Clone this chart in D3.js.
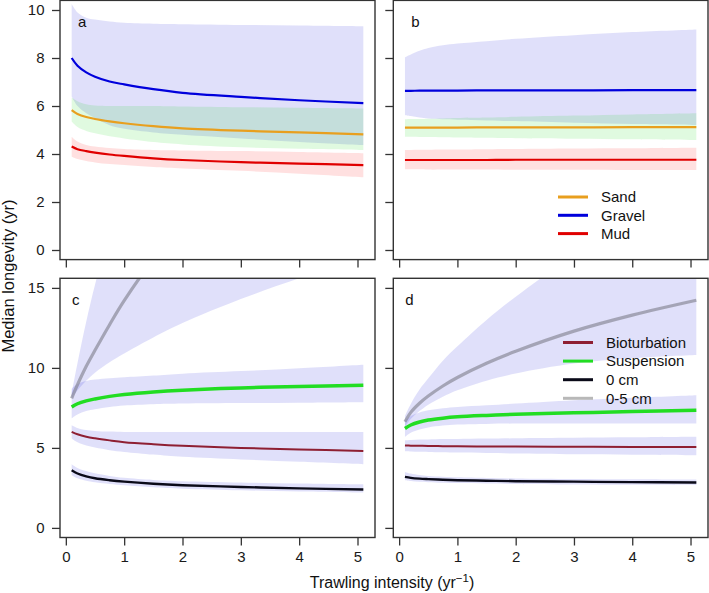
<!DOCTYPE html>
<html><head><meta charset="utf-8">
<script src="https://cdn.jsdelivr.net/npm/d3@7"></script>
<style>
body{margin:0;background:#fff;}
svg{display:block;font-family:"Liberation Sans",Arial,sans-serif;}
</style></head>
<body><svg id="c" width="709" height="593"></svg>
<script>
// ---------- data ----------
const xs = [0.1, 0.2, 0.35, 0.5, 0.75, 1, 1.5, 2, 3, 4, 5.1];
const xTicks = [0, 1, 2, 3, 4, 5];
const yTicksTop = [0, 2, 4, 6, 8, 10];
const yTicksBottom = [0, 5, 10, 15];

// panel a (sediment, time-varying)
const aGravel   = [8.0, 7.68, 7.4, 7.22, 7.02, 6.9, 6.7, 6.55, 6.38, 6.24, 6.12];
const aGravelHi = [10.25, 9.9, 9.68, 9.6, 9.52, 9.47, 9.43, 9.41, 9.38, 9.35, 9.32];
const aGravelLo = [6.4, 6.0, 5.7, 5.5, 5.2, 5.05, 4.9, 4.8, 4.65, 4.5, 4.37];
const aSand     = [5.83, 5.67, 5.54, 5.46, 5.36, 5.28, 5.16, 5.07, 4.97, 4.9, 4.82];
const aSandHi   = [6.35, 6.2, 6.07, 6.02, 6.0, 6.0, 6.0, 5.98, 5.95, 5.93, 5.9];
const aSandLo   = [5.35, 5.12, 4.96, 4.86, 4.74, 4.65, 4.5, 4.4, 4.28, 4.22, 4.17];
const aMud      = [4.31, 4.2, 4.12, 4.06, 3.98, 3.92, 3.82, 3.75, 3.66, 3.6, 3.54];
const aMudHi    = [4.72, 4.52, 4.38, 4.31, 4.25, 4.21, 4.17, 4.15, 4.12, 4.08, 4.03];
const aMudLo    = [3.89, 3.79, 3.71, 3.65, 3.58, 3.54, 3.46, 3.4, 3.3, 3.18, 3.03];

// panel b (sediment)
const bGravel   = [6.63, 6.63, 6.64, 6.64, 6.64, 6.64, 6.65, 6.65, 6.65, 6.66, 6.66];
const bGravelHi = [8.03, 8.15, 8.3, 8.42, 8.53, 8.6, 8.7, 8.8, 8.95, 9.08, 9.19];
const bGravelLo = [5.63, 5.58, 5.52, 5.48, 5.45, 5.43, 5.4, 5.37, 5.3, 5.25, 5.21];
const bSand     = [5.1, 5.1, 5.1, 5.1, 5.1, 5.1, 5.11, 5.11, 5.11, 5.12, 5.12];
const bSandHi   = [5.45, 5.46, 5.46, 5.47, 5.48, 5.5, 5.52, 5.55, 5.6, 5.65, 5.7];
const bSandLo   = [4.72, 4.72, 4.71, 4.71, 4.7, 4.69, 4.68, 4.66, 4.64, 4.61, 4.58];
const bMud      = [3.75, 3.75, 3.75, 3.75, 3.75, 3.75, 3.75, 3.76, 3.76, 3.76, 3.76];
const bMudHi    = [4.17, 4.17, 4.18, 4.18, 4.19, 4.19, 4.2, 4.21, 4.23, 4.24, 4.26];
const bMudLo    = [3.36, 3.36, 3.36, 3.35, 3.35, 3.35, 3.35, 3.34, 3.34, 3.33, 3.33];

// panel c (traits)
const cBio      = [6.0, 5.85, 5.7, 5.6, 5.47, 5.36, 5.23, 5.13, 5.0, 4.9, 4.81];
const cBioHi    = [6.42, 6.25, 6.12, 6.06, 6.02, 6.0, 6.0, 6.0, 6.0, 6.0, 6.0];
const cBioLo    = [5.59, 5.35, 5.15, 5.02, 4.86, 4.75, 4.58, 4.44, 4.28, 4.13, 3.98];
const cSus      = [7.56, 7.76, 7.94, 8.06, 8.22, 8.34, 8.5, 8.61, 8.75, 8.84, 8.92];
const cSusHi    = [8.7, 9.0, 9.18, 9.27, 9.35, 9.41, 9.52, 9.64, 9.8, 9.98, 10.2];
const cSusLo    = [6.84, 7.08, 7.3, 7.42, 7.56, 7.65, 7.73, 7.77, 7.8, 7.82, 7.85];
const c0cm      = [3.6, 3.4, 3.22, 3.1, 2.98, 2.89, 2.76, 2.67, 2.56, 2.47, 2.4];
const c0cmHi    = [3.98, 3.75, 3.55, 3.41, 3.25, 3.13, 3.0, 2.92, 2.84, 2.78, 2.73];
const c0cmLo    = [3.29, 3.1, 2.95, 2.85, 2.74, 2.66, 2.54, 2.45, 2.35, 2.28, 2.21];
const c05cm     = [8.1, 8.95, 10.1, 11.1, 12.7, 14.2, 16.8, 19.0, 22.5, 25.5, 28.5];
const c05cmHi   = [8.4, 10.3, 12.9, 15.2, 18.5, 21.0, 25.0, 28.0, 33.0, 37.0, 40.0];
const c05cmLo   = [8.1, 8.6, 9.2, 9.7, 10.35, 10.9, 11.9, 12.8, 14.3, 15.6, 16.9];

// panel d (traits)
const dBio      = [5.15, 5.14, 5.13, 5.12, 5.11, 5.1, 5.09, 5.08, 5.07, 5.06, 5.06];
const dBioHi    = [5.48, 5.5, 5.52, 5.53, 5.55, 5.56, 5.58, 5.6, 5.63, 5.66, 5.69];
const dBioLo    = [4.79, 4.78, 4.76, 4.75, 4.73, 4.71, 4.68, 4.65, 4.6, 4.57, 4.54];
const dSus      = [6.21, 6.43, 6.62, 6.74, 6.86, 6.94, 7.03, 7.1, 7.19, 7.27, 7.36];
const dSusHi    = [6.73, 7.0, 7.22, 7.35, 7.48, 7.56, 7.67, 7.77, 7.98, 8.13, 8.29];
const dSusLo    = [5.69, 5.95, 6.15, 6.28, 6.4, 6.46, 6.5, 6.52, 6.52, 6.52, 6.52];
const d0cm      = [3.19, 3.13, 3.08, 3.05, 3.01, 2.98, 2.95, 2.92, 2.89, 2.86, 2.84];
const d0cmHi    = [3.5, 3.4, 3.3, 3.25, 3.2, 3.16, 3.12, 3.09, 3.06, 3.04, 3.02];
const d0cmLo    = [2.98, 2.93, 2.88, 2.85, 2.82, 2.8, 2.77, 2.74, 2.71, 2.69, 2.67];
const d05cm     = [6.63, 7.22, 7.79, 8.24, 8.87, 9.4, 10.29, 11.04, 12.3, 13.3, 14.23];
const d05cmHi   = [7.0, 7.75, 8.65, 9.35, 10.45, 11.35, 13.0, 14.45, 17.0, 18.9, 20.7];
const d05cmLo   = [6.3, 6.8, 7.3, 7.7, 8.2, 8.6, 9.2, 9.65, 10.27, 10.6, 10.8];

const sedNames = ["Sand", "Gravel", "Mud"];
const traitNames = ["Bioturbation", "Suspension", "0 cm", "0-5 cm"];
const panelLabels = ["a", "b", "c", "d"];
const xTitle = "Trawling intensity (yr";
const yTitle = "Median longevity (yr)";

// ---------- styles ----------
const col = {
  Sand: "#E89F1E", Gravel: "#0000DC", Mud: "#E00000",
  Bioturbation: "#8E1F32", Suspension: "#22DD22", "0 cm": "#0A0A18", "0-5 cm": "rgba(128,128,140,0.62)"
};
const legendCol = Object.assign({}, col, {"0-5 cm": "#B8B8B8"});
const lw = {Sand: 2.2, Gravel: 2.2, Mud: 2.2, Bioturbation: 2, Suspension: 3.5, "0 cm": 2.4, "0-5 cm": 3.2};
const bandFill = {
  Sand: "rgba(0,210,0,0.12)", Gravel: "rgba(0,0,215,0.12)", Mud: "rgba(255,0,0,0.12)",
  trait: "rgba(0,0,215,0.12)"
};
const FONT = '"Liberation Sans",Arial,sans-serif';

const svg = d3.select("#c");
const L = [60, 375], R = [393.3, 708];
const T = [0.4, 259.6], B = [278.3, 537.5];

const panels = [
  {id:"a", xr:L, yr:T, ydom:[-0.4,10.4], yticks:yTicksTop, ylab:true, xlab:false,
   series:[
     {n:"Gravel", v:aGravel, hi:aGravelHi, lo:aGravelLo, f:bandFill.Gravel},
     {n:"Sand", v:aSand, hi:aSandHi, lo:aSandLo, f:bandFill.Sand},
     {n:"Mud", v:aMud, hi:aMudHi, lo:aMudLo, f:bandFill.Mud}]},
  {id:"b", xr:R, yr:T, ydom:[-0.4,10.4], yticks:yTicksTop, ylab:false, xlab:false,
   series:[
     {n:"Gravel", v:bGravel, hi:bGravelHi, lo:bGravelLo, f:bandFill.Gravel},
     {n:"Sand", v:bSand, hi:bSandHi, lo:bSandLo, f:bandFill.Sand},
     {n:"Mud", v:bMud, hi:bMudHi, lo:bMudLo, f:bandFill.Mud}]},
  {id:"c", xr:L, yr:B, ydom:[-0.6,15.6], yticks:yTicksBottom, ylab:true, xlab:true,
   series:[
     {n:"0-5 cm", v:c05cm, hi:c05cmHi, lo:c05cmLo, f:bandFill.trait},
     {n:"Suspension", v:cSus, hi:cSusHi, lo:cSusLo, f:bandFill.trait},
     {n:"Bioturbation", v:cBio, hi:cBioHi, lo:cBioLo, f:bandFill.trait},
     {n:"0 cm", v:c0cm, hi:c0cmHi, lo:c0cmLo, f:bandFill.trait}]},
  {id:"d", xr:R, yr:B, ydom:[-0.6,15.6], yticks:yTicksBottom, ylab:false, xlab:true,
   series:[
     {n:"0-5 cm", v:d05cm, hi:d05cmHi, lo:d05cmLo, f:bandFill.trait},
     {n:"Suspension", v:dSus, hi:dSusHi, lo:dSusLo, f:bandFill.trait},
     {n:"Bioturbation", v:dBio, hi:dBioHi, lo:dBioLo, f:bandFill.trait},
     {n:"0 cm", v:d0cm, hi:d0cmHi, lo:d0cmLo, f:bandFill.trait}]}
];

const curve = d3.curveCatmullRom.alpha(0.5);

panels.forEach((p, i) => {
  const x = d3.scaleLinear().domain([-0.1, 5.3]).range(p.xr);
  const y = d3.scaleLinear().domain(p.ydom).range([p.yr[1], p.yr[0]]);
  const g = svg.append("g");
  const clipId = "clip" + p.id;
  svg.append("clipPath").attr("id", clipId).append("rect")
    .attr("x", p.xr[0]).attr("y", p.yr[0]).attr("width", p.xr[1]-p.xr[0]).attr("height", p.yr[1]-p.yr[0]);
  const plot = g.append("g").attr("clip-path", `url(#${clipId})`);
  const area = d3.area().x((d,k)=>x(xs[k])).y0(d=>y(d[0])).y1(d=>y(d[1])).curve(curve);
  const line = d3.line().x((d,k)=>x(xs[k])).y(d=>y(d)).curve(curve);
  p.series.forEach(s => {
    plot.append("path").datum(s.lo.map((l,k)=>[l, s.hi[k]])).attr("d", area).attr("fill", s.f);
  });
  p.series.forEach(s => {
    plot.append("path").datum(s.v).attr("d", line).attr("fill","none")
      .attr("stroke", col[s.n]).attr("stroke-width", lw[s.n]).attr("stroke-linecap","butt");
  });
  // frame
  g.append("rect").attr("x", p.xr[0]).attr("y", p.yr[0]).attr("width", p.xr[1]-p.xr[0]).attr("height", p.yr[1]-p.yr[0])
    .attr("fill","none").attr("stroke","#333").attr("stroke-width",1.4);
  // axes
  const ya = d3.axisLeft(y).tickValues(p.yticks).tickSize(8).tickPadding(7.5).tickFormat(d3.format("d"));
  if (!p.ylab) ya.tickFormat("");
  const yg = g.append("g").attr("transform", `translate(${p.xr[0]},0)`).call(ya);
  const xa = d3.axisBottom(x).tickValues(xTicks).tickSize(8).tickPadding(6).tickFormat(d3.format("d"));
  if (!p.xlab) xa.tickFormat("");
  const xg = g.append("g").attr("transform", `translate(0,${p.yr[1]})`).call(xa);
  [yg, xg].forEach(a => {
    a.select(".domain").remove();
    a.selectAll(".tick line").attr("stroke","#333").attr("stroke-width",1.3);
    a.selectAll(".tick text").attr("fill","#1a1a1a").style("font-size","15px").style("font-family",FONT);
  });
  // panel label
  g.append("text").attr("x", p.xr[0] + (p.id==="a"||p.id==="b" ? 18 : 12)).attr("y", p.yr[0] + 26.5)
    .text(panelLabels[i]).attr("fill","#111").style("font-size","15px");
});

// legends
function legend(names, x0, y0, dy) {
  const g = svg.append("g");
  names.forEach((n, k) => {
    const yy = y0 + k*dy;
    g.append("line").attr("x1", x0).attr("x2", x0+30).attr("y1", yy).attr("y2", yy)
      .attr("stroke", legendCol[n]).attr("stroke-width", 3);
    g.append("text").attr("x", x0+43).attr("y", yy).attr("dy","0.35em").text(n)
      .attr("fill","#111").style("font-size","15px");
  });
}
legend(sedNames, 558, 197, 18.3);
legend(traitNames, 563, 342.5, 18.6);

// axis titles
const xt = svg.append("text").attr("x", 392).attr("y", 588).attr("text-anchor","middle")
  .attr("fill","#111").style("font-size","16px");
xt.append("tspan").text(xTitle);
xt.append("tspan").text("\u22121").attr("dy","-6").style("font-size","11.5px");
xt.append("tspan").text(")").attr("dy","6");
svg.append("text").attr("transform","translate(13.5,276) rotate(-90)").attr("text-anchor","middle")
  .attr("fill","#111").style("font-size","16.5px").text(yTitle);
</script></body></html>
